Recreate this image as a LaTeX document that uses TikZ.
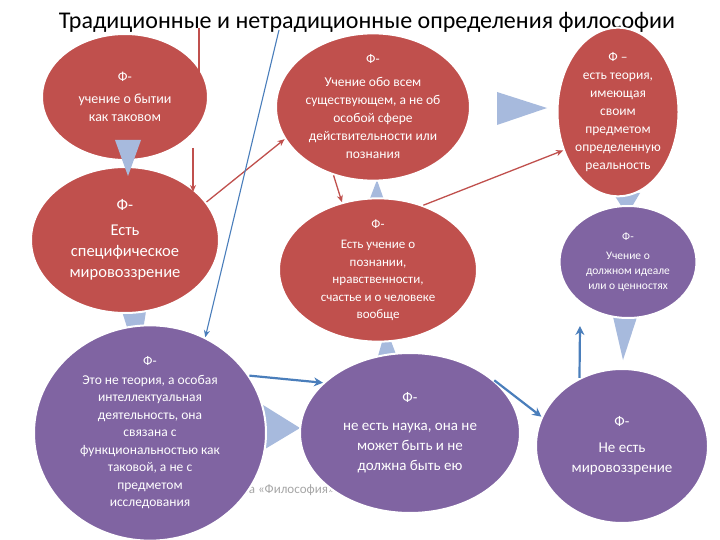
\documentclass[tikz,border=0pt]{standalone}
\usepackage{fontspec}
\setmainfont{Carlito}
\usetikzlibrary{shapes.geometric,arrows.meta}
\definecolor{rd}{HTML}{C0504D}
\definecolor{pu}{HTML}{8064A2}
\definecolor{tri}{HTML}{A7BADD}
\definecolor{bl}{HTML}{4A7EBB}
\begin{document}
\begin{tikzpicture}[x=1pt,y=-1pt,
 el/.style={ellipse,draw=white,line width=2pt,text=white,align=center,inner sep=0pt},
 redel/.style={el,fill=rd},
 purel/.style={el,fill=pu},
 tr/.style={fill=tri,draw=none},
 rarr/.style={draw=rd,line width=1.3pt,-{Stealth[length=7pt,width=6pt]}},
 barr/.style={draw=bl,line width=2.2pt,-{Stealth[length=9pt,width=9pt]}},
 tarr/.style={draw=bl,line width=1.1pt,-{Stealth[length=7pt,width=6pt]}}]
\useasboundingbox (0,0) rectangle (720,540);
\fill[white] (0,0) rectangle (720,540);
\node[font=\fontsize{24}{28}\selectfont,anchor=center] (title) at (367,22) {Традиционные и нетрадиционные определения философии};
\node[text=gray!70,font=\fontsize{13}{16}\selectfont,anchor=west] (wm) at (218,490) {плина «Философия»};
% triangles
\fill[tr] (120,305) -- (147,305) -- (138,362) -- cycle;
\fill[tr] (497,92) -- (497,125) -- (547,108) -- cycle;
\fill[tr] (364,214) -- (389,214) -- (377,180) -- cycle;
\fill[tr] (374,370) -- (402,370) -- (386,328) -- cycle;
\fill[tr] (613,193) -- (640,193) -- (627,215) -- cycle;
\fill[tr] (611,308) -- (640,308) -- (623,360) -- cycle;
\fill[tr] (255,400) -- (255,455) -- (300,428) -- cycle;
% ellipses
\node[redel,minimum width=166,minimum height=126,font=\fontsize{14}{18}\selectfont] (e1) at (125,97) {Ф-\\[4pt]учение о бытии\\как таковом};
\node[redel,minimum width=188,minimum height=146,font=\fontsize{16.5}{21}\selectfont] (e2) at (125,240) {Ф-\\[4pt]Есть\\специфическое\\мировоззрение};
\node[redel,minimum width=194,minimum height=146,font=\fontsize{13.5}{18}\selectfont] (e3) at (373,107) {Ф-\\[5pt]Учение обо всем\\существующем, а не  об\\особой сфере\\действительности или\\познания};
\node[redel,minimum width=121,minimum height=156,font=\fontsize{13.5}{18}\selectfont] (e4) at (618,112) {Ф –\\есть теория,\\имеющая\\своим\\предметом\\определенную\\реальность};
\node[redel,minimum width=198,minimum height=124,font=\fontsize{13}{17.5}\selectfont] (e5) at (378,270) {Ф-\\[3pt]Есть учение о\\познании,\\нравственности,\\счастье и о человеке\\вообще};
\node[purel,minimum width=137,minimum height=112,font=\fontsize{11.5}{15}\selectfont] (e6) at (628,262) {Ф-\\[4pt]Учение о\\должном идеале\\или о ценностях};
\node[purel,minimum width=232,minimum height=158,font=\fontsize{13.5}{17.5}\selectfont] (e7) at (150,433) {Ф-\\[1pt]Это не теория, а особая\\интеллектуальная\\деятельность, она\\связана с\\функциональностью как\\таковой, а не с\\предметом\\исследования};
\node[purel,minimum width=220,minimum height=160,font=\fontsize{15}{20}\selectfont] (e8) at (410,433) {Ф-\\[8pt]не есть  наука, она не\\может быть  и не\\должна  быть ею};
\node[purel,minimum width=172,minimum height=154,font=\fontsize{15}{20}\selectfont] (e9) at (622,446) {Ф-\\[6pt]Не есть\\мировоззрение};
\fill[tr] (115,140) -- (141,140) -- (128,176) -- cycle;
% red arrows
\coordinate (r1s) at (199,28); \coordinate (r1e) at (199,84);
\draw[rarr] (r1s) -- (r1e);
\coordinate (r2s) at (193,148); \coordinate (r2e) at (193,192);
\draw[rarr] (r2s) -- (r2e);
\draw[rarr] (e2.25) -- (e3.200);
\draw[rarr] (e3.240) -- (e5.118);
\draw[rarr] (e5.55) -- (e4.215);
% blue thin
\coordinate (b1s) at (279,30);
\draw[tarr] (b1s) -- (e7.60);
% blue thick
\draw[barr] (e7.30) -- (e8.150);
\draw[barr] (e8.32) -- (e9.160);
\coordinate (b4e) at (580,326);
\draw[barr] (e9.122) -- (b4e);
\end{tikzpicture}
\end{document}
